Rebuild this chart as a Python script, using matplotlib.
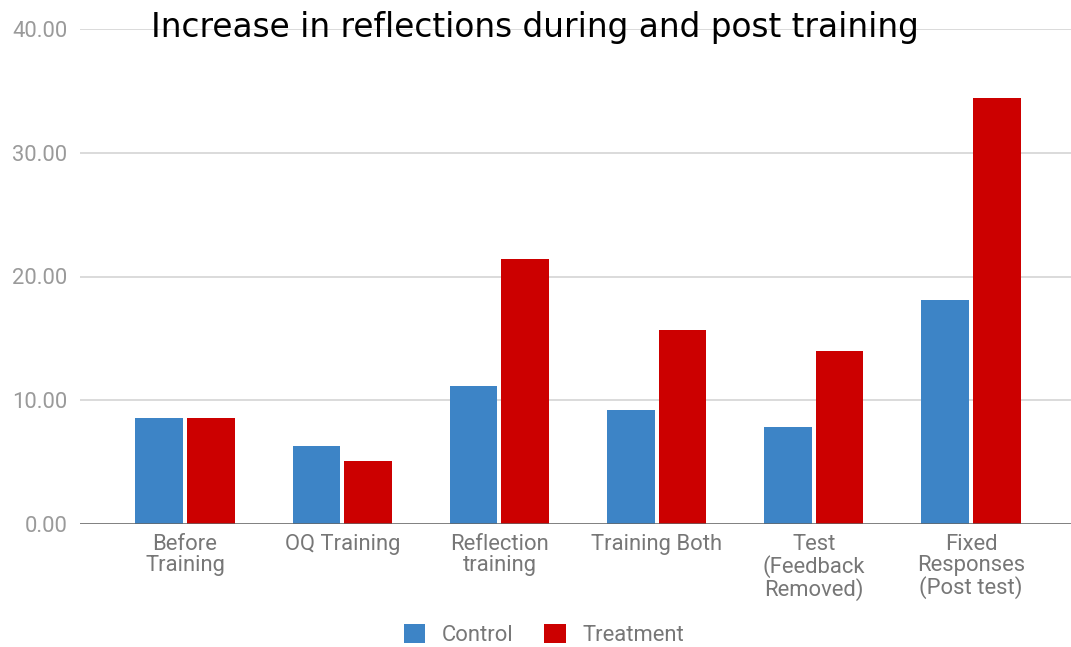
import matplotlib
matplotlib.use("Agg")
import matplotlib.pyplot as plt
from matplotlib.patches import Patch
import numpy as np

categories = ["Before\nTraining", "OQ Training", "Reflection\ntraining",
              "Training Both", "Test\n(Feedback\nRemoved)",
              "Fixed\nResponses\n(Post test)"]
control = [8.57, 6.30, 11.16, 9.24, 7.86, 18.10]
treatment = [8.57, 5.08, 21.40, 15.67, 13.99, 34.40]
series_names = ["Control", "Treatment"]
yticks = [0, 10, 20, 30, 40]

BLUE = "#3d84c6"
RED = "#cc0000"
YTICK_GREY = "#9a9a9a"
XTICK_GREY = "#777777"

fig = plt.figure(figsize=(10.71, 6.47), dpi=100)
ax = fig.add_axes([80 / 1071, 1 - 524 / 647, 1 - 80 / 1071, (524 - 29) / 647])

x = np.arange(len(categories))
w = 0.303
gap = 0.0125
ax.bar(x - w / 2 - gap, control, width=w, color=BLUE, zorder=3)
ax.bar(x + w / 2 + gap, treatment, width=w, color=RED, zorder=3)

ax.set_xlim(-0.668, 5.636)
ax.set_ylim(0, 40)
ax.set_yticks(yticks)
ax.set_yticklabels([f"{v:.2f}" for v in yticks])
ax.set_xticks(x)
ax.set_xticklabels(categories)

for s in ax.spines.values():
    s.set_visible(False)
ax.grid(axis="y", color="#dadada", linewidth=1.4, zorder=0)
ax.axhline(0, color="#666666", linewidth=1.8, zorder=4)
ax.tick_params(axis="both", length=0)
ax.tick_params(axis="y", pad=9, labelsize=15.8, labelcolor=YTICK_GREY)
ax.tick_params(axis="x", pad=7, labelsize=15.8, labelcolor=XTICK_GREY)
for lab in ax.get_xticklabels() + ax.get_yticklabels():
    lab.set_family("Roboto")
for lab in ax.get_xticklabels():
    lab.set_linespacing(1.0)

fig.text(535 / 1071, 1 - 27 / 647, "Increase in reflections during and post training",
         ha="center", va="center", fontsize=23.6, color="black",
         family="DejaVu Sans")

handles = [Patch(facecolor=BLUE, edgecolor="none"),
           Patch(facecolor=RED, edgecolor="none")]
fig.legend(handles, series_names, loc="lower center",
           bbox_to_anchor=(544 / 1071, 0.0), borderpad=0.05, borderaxespad=0.0,
           ncol=2, frameon=False, handlelength=1.0, handleheight=1.0,
           handletextpad=0.75, columnspacing=1.4,
           prop={"family": "Roboto", "size": 15.8}, labelcolor=XTICK_GREY)

fig.savefig("out.png", dpi=100)
